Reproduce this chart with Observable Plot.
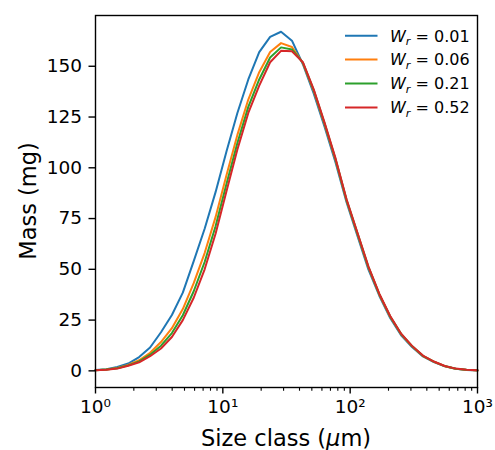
<!DOCTYPE html>
<html><head><meta charset="utf-8">
<script src="https://cdn.jsdelivr.net/npm/d3@7"></script>
<script src="https://cdn.jsdelivr.net/npm/@observablehq/plot@0.6"></script>
<style>
body{margin:0;background:#fff;}
#wrap{position:relative;width:495px;height:450px;}
</style></head><body><div id="wrap"></div>
<script>
// Size classes (µm), log-spaced
const sizeClass = [1.000, 1.218, 1.484, 1.807, 2.202, 2.683, 3.268, 3.981, 4.850, 5.907, 7.197, 8.768, 10.68, 13.01, 15.85, 19.31, 23.52, 28.65, 34.90, 42.52, 51.79, 63.10, 76.87, 93.64, 114.1, 139.0, 169.3, 206.2, 251.2, 306.0, 372.8, 454.2, 553.3, 674.0, 821.1, 1000];

const seriesLabels = ["0.01", "0.06", "0.21", "0.52"];
const seriesColors = ["#1f77b4", "#ff7f0e", "#2ca02c", "#d62728"];

const massW001 = [0.4, 0.8, 1.9, 3.6, 6.8, 11.5, 19.0, 27.5, 38.5, 54.0, 70.0, 88.0, 108.0, 127.0, 143.5, 157.0, 164.5, 167.0, 162.6, 151.0, 136.5, 120.0, 102.5, 83.0, 66.5, 50.0, 37.0, 26.0, 17.5, 11.7, 7.1, 4.3, 2.2, 1.0, 0.45, 0.2];
const massW006 = [0.34, 0.68, 1.42, 2.94, 5.24, 8.92, 14.2, 21.0, 30.4, 43.2, 58.0, 75.7, 96.3, 116.2, 133.6, 147.1, 157.0, 161.4, 159.5, 151.6, 137.7, 121.2, 103.7, 83.9, 67.4, 50.9, 37.6, 26.6, 18.0, 12.1, 7.3, 4.5, 2.3, 1.06, 0.48, 0.22];
const massW021 = [0.32, 0.64, 1.24, 2.70, 4.67, 7.97, 12.4, 18.6, 27.4, 39.2, 53.6, 71.2, 92.0, 112.2, 130.0, 143.5, 154.3, 159.3, 158.3, 151.8, 138.1, 121.6, 104.1, 84.2, 67.7, 51.2, 37.8, 26.8, 18.2, 12.2, 7.4, 4.55, 2.36, 1.08, 0.49, 0.24];
const massW052 = [0.3, 0.6, 1.1, 2.5, 4.2, 7.2, 11.0, 16.7, 25.0, 36.0, 50.0, 67.5, 88.5, 109.0, 127.0, 140.5, 152.0, 157.6, 157.4, 152.0, 138.5, 122.0, 104.5, 84.5, 68.0, 51.5, 38.0, 27.0, 18.3, 12.3, 7.5, 4.6, 2.4, 1.1, 0.5, 0.25];

const yTicks = [0, 25, 50, 75, 100, 125, 150];
const xMajorTicks = [1, 10, 100, 1000];
const xMinorTicks = [2,3,4,5,6,7,8,9,20,30,40,50,60,70,80,90,200,300,400,500,600,700,800,900];
const xTickLabels = ["10⁰", "10¹", "10²", "10³"];

const allSeries = [massW001, massW006, massW021, massW052];
const data = [];
allSeries.forEach((vals, i) => {
  vals.forEach((v, j) => data.push({size: sizeClass[j], mass: v, w: seriesLabels[i]}));
});

const font = "DejaVu Sans, sans-serif";
const M = {l: 95, r: 18, t: 15, b: 63};
const W = 495, H = 450;

const chart = Plot.plot({
  width: W, height: H,
  marginLeft: M.l, marginRight: M.r, marginTop: M.t, marginBottom: M.b,
  style: {fontFamily: font, fontSize: "18.5px", color: "#000", background: "#fff"},
  x: {type: "log", domain: [1, 1000]},
  y: {domain: [-8.2, 175]},
  color: {domain: seriesLabels, range: seriesColors},
  marks: [
    Plot.line(data, {x: "size", y: "mass", z: "w", stroke: "w", strokeWidth: 2}),
    Plot.frame({stroke: "#000", strokeWidth: 1.4}),
    Plot.axisY({ticks: yTicks, tickSize: 6.5, tickPadding: 7, label: null, tickFormat: d => String(d), strokeWidth: 1.4}),
    Plot.axisX({ticks: xMajorTicks, tickSize: 6.5, tickPadding: 6, label: null,
      tickFormat: d => xTickLabels[xMajorTicks.indexOf(d)], strokeWidth: 1.4}),
    Plot.axisX({ticks: xMinorTicks, tickSize: 3.7, label: null, tickFormat: () => "", strokeWidth: 1.1})
  ]
});

document.getElementById("wrap").appendChild(chart);
const svg = d3.select(chart);

// Axis labels
const xl = svg.append("text")
  .attr("x", (M.l + (W - M.r)) / 2).attr("y", 446)
  .attr("text-anchor", "middle").attr("font-family", font).attr("font-size", 22.5).attr("fill", "#000");
xl.append("tspan").text("Size class (");
xl.append("tspan").attr("font-style", "italic").text("μ");
xl.append("tspan").text("m)");

svg.append("text")
  .attr("transform", `translate(36,${(M.t + (H - M.b)) / 2}) rotate(-90)`)
  .attr("text-anchor", "middle").attr("font-family", font).attr("font-size", 22.5).attr("fill", "#000")
  .text("Mass (mg)");

// Legend
const lg = svg.append("g").attr("font-family", font).attr("font-size", 16).attr("fill", "#000")
  .attr("text-anchor", "start");
seriesLabels.forEach((lab, i) => {
  const cy = 35.7 + i * 23.9;
  lg.append("line").attr("x1", 345).attr("x2", 377.5).attr("y1", cy).attr("y2", cy)
    .attr("stroke", seriesColors[i]).attr("stroke-width", 2);
  const t = lg.append("text").attr("x", 390).attr("y", cy + 5.8).attr("text-anchor", "start");
  t.append("tspan").attr("font-style", "italic").text("W");
  t.append("tspan").attr("font-style", "italic").attr("font-size", 11.2).attr("dy", 3.5).text("r");
  t.append("tspan").attr("dy", -3.5).text(" = " + lab);
});
</script></body></html>
